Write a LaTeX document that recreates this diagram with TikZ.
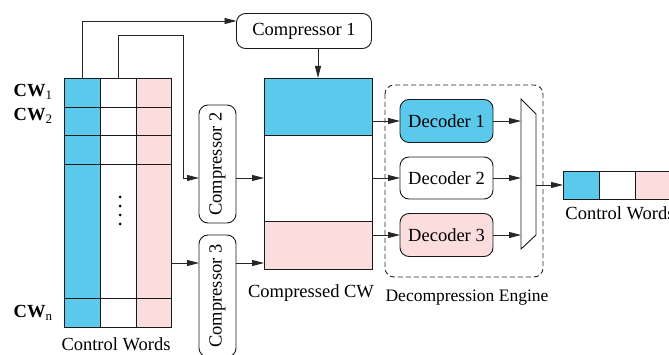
\documentclass[tikz,border=0pt]{standalone}
\usepackage{fontspec}
\setmainfont{Liberation Serif}
\usepackage{xcolor}
\usetikzlibrary{arrows.meta,positioning,calc}
\definecolor{cwblue}{RGB}{91,201,236}
\definecolor{cwpink}{RGB}{252,221,221}
\begin{document}
\begin{tikzpicture}[x=1pt,y=-1pt,>={Triangle[length=12pt,width=6pt]},
  line width=0.9pt,
  font=\fontsize{18.5}{22}\selectfont,
  ln/.style={draw=black!85},
  arr/.style={ln,->},
  cell/.style={draw=black!90,inner sep=0,outer sep=0},
  rbox/.style={draw=black!90,rounded corners=9pt,inner sep=0,outer sep=0},
  lab/.style={inner sep=0}]
  \useasboundingbox (0,0) rectangle (669,355);
  % control words table
  \node[cell,fill=cwblue,minimum width=36pt,minimum height=249pt](cA) at (82,202.5){};
  \node[cell,minimum width=36pt,minimum height=249pt,right=0pt of cA](cB){};
  \node[cell,fill=cwpink,minimum width=35pt,minimum height=249pt,right=0pt of cB](cC){};
  \foreach \y in {107,135,164,298}
    \draw[black!90] (cA.west |- 0,\y) -- (cC.east |- 0,\y);
  \foreach \y in {197,206,215,224}
    \fill (120,\y) circle (1.5pt);
  \node[lab,anchor=east](cw1) at (53,92){\textbf{CW}\textsubscript{1}};
  \node[lab,anchor=east](cw2) at (53,116){\textbf{CW}\textsubscript{2}};
  \node[lab,anchor=east](cwn) at (53,313){\textbf{CW}\textsubscript{n}};
  \node[lab](cwcap) at (116,344){Control Words};
  % compressors
  \node[rbox,minimum width=135pt,minimum height=35pt](comp1) at (304,31){Compressor 1};
  \node[rbox,minimum width=37pt,minimum height=118pt](comp2) at (217.5,164){\rotatebox{90}{Compressor 2}};
  \node[rbox,minimum width=37pt,minimum height=122pt](comp3) at (217.5,296){\rotatebox{90}{Compressor 3}};
  \draw[arr] (cA.north) |- ([yshift=10pt]comp1.west);
  \draw[arr] (cB.north) |- ++(65,-43) |- ([yshift=-14pt]comp2.west);
  \draw[arr] (cC.east |- 0,263) -- (comp3.west |- 0,263);
  % compressed CW
  \node[cell,fill=cwblue,minimum width=108pt,minimum height=57pt](ccA) at (318,106.5){};
  \node[cell,minimum width=108pt,minimum height=86pt,below=0pt of ccA](ccB){};
  \node[cell,fill=cwpink,minimum width=108pt,minimum height=48pt,below=0pt of ccB](ccC){};
  \node[lab](cccap) at (311,293){Compressed CW};
  \draw[arr] (comp1.south -| ccA.north) -- (ccA.north);
  \draw[arr] ([yshift=-14pt]comp2.east) -- (ccB.west |- 0,178);
  \draw[arr] (comp3.east |- 0,263) -- (ccC.west |- 0,263);
  % decompression engine
  \draw[black!85,dashed,dash pattern=on 5pt off 3pt,rounded corners=9pt] (385,85) rectangle (543,277);
  \node[lab,font=\fontsize{17.5}{21}\selectfont](decap) at (467,298){Decompression Engine};
  \node[rbox,fill=cwblue,minimum width=93pt,minimum height=43pt](dec1) at (446.5,121){Decoder 1};
  \node[rbox,minimum width=93pt,minimum height=42pt](dec2) at (446.5,178){Decoder 2};
  \node[rbox,fill=cwpink,minimum width=93pt,minimum height=43pt](dec3) at (446.5,235){Decoder 3};
  \draw[arr] (ccA.east |- dec1.west) -- (dec1.west);
  \draw[arr] (ccB.east |- dec2.west) -- (dec2.west);
  \draw[arr] (ccC.east |- dec3.west) -- (dec3.west);
  % mux
  \coordinate (muxL) at (521,174);
  \coordinate (muxR) at (536,185);
  \draw[black!90] (521,99) -- (536,114) -- (536,235) -- (521,249) -- cycle;
  \draw[arr] (dec1.east) -- (dec1.east -| muxL);
  \draw[arr] (dec2.east) -- (dec2.east -| muxL);
  \draw[arr] (dec3.east) -- (dec3.east -| muxL);
  % output control word
  \node[cell,fill=cwblue,minimum width=36pt,minimum height=28pt](oA) at (581,185){};
  \node[cell,minimum width=36pt,minimum height=28pt,right=0pt of oA](oB){};
  \node[cell,fill=cwpink,minimum width=36pt,minimum height=28pt,right=0pt of oB](oC){};
  \node[lab,anchor=west](ocap) at (565,213){Control Words};
  \draw[arr] (muxR) -- (oA.west);
\end{tikzpicture}
\end{document}
